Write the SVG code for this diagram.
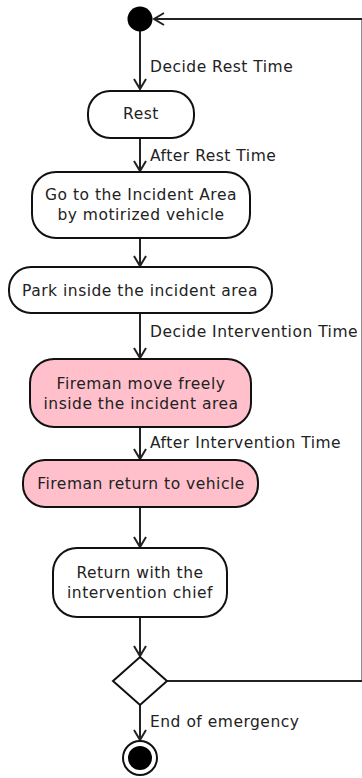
<svg xmlns="http://www.w3.org/2000/svg" width="362" height="778" viewBox="0 0 362 778">
<defs>
<style>
.n{fill:#fff;stroke:#111;stroke-width:2}
.p{fill:#ffc0cb;stroke:#111;stroke-width:2}
.t{font-family:"DejaVu Sans",Verdana,sans-serif;font-size:15.5px;letter-spacing:0.5px;fill:#222;text-anchor:middle}
.l{font-family:"DejaVu Sans",Verdana,sans-serif;font-size:15.5px;letter-spacing:0.5px;fill:#222}
.c{fill:none;stroke:#222;stroke-width:2}
</style>
<marker id="a" markerUnits="userSpaceOnUse" markerWidth="16" markerHeight="16" refX="11" refY="7" orient="auto">
<path d="M1,1 L11,7 L1,13" fill="none" stroke="#222" stroke-width="2"/>
</marker>
</defs>
<rect width="362" height="778" fill="#fff"/>
<g id="connectors">
<path class="c" d="M140,31 V89" marker-end="url(#a)"/>
<path class="c" d="M140,138 V171" marker-end="url(#a)"/>
<path class="c" d="M140,238 V266" marker-end="url(#a)"/>
<path class="c" d="M140,313 V358" marker-end="url(#a)"/>
<path class="c" d="M140,427 V459" marker-end="url(#a)"/>
<path class="c" d="M140,507 V547" marker-end="url(#a)"/>
<path class="c" d="M140,617 V656" marker-end="url(#a)"/>
<path class="c" d="M140,705 V740" marker-end="url(#a)"/>
<path class="c" d="M167,681 H362.5 V19 H154" marker-end="url(#a)"/>
<text class="l" x="150" y="72">Decide Rest Time</text>
<text class="l" x="150" y="161">After Rest Time</text>
<text class="l" x="150" y="337">Decide Intervention Time</text>
<text class="l" x="150" y="448">After Intervention Time</text>
<text class="l" x="150" y="727">End of emergency</text>
</g>
<g id="start"><circle cx="140" cy="19" r="12.5" fill="#000"/></g>
<g id="rest"><rect class="n" x="88" y="91" width="106" height="47" rx="22"/><text class="t" x="141" y="119">Rest</text></g>
<g id="go"><rect class="n" x="32" y="172" width="218" height="66" rx="24"/><text class="t" x="141" y="200">Go to the Incident Area</text><text class="t" x="141" y="220">by motirized vehicle</text></g>
<g id="park"><rect class="n" x="9" y="267" width="263" height="46" rx="22"/><text class="t" x="140" y="296">Park inside the incident area</text></g>
<g id="move"><rect class="p" x="30" y="359" width="221" height="68" rx="24"/><text class="t" x="141" y="389">Fireman move freely</text><text class="t" x="141" y="409">inside the incident area</text></g>
<g id="returnveh"><rect class="p" x="23" y="460" width="235" height="47" rx="22"/><text class="t" x="141" y="489">Fireman return to vehicle</text></g>
<g id="returnchief"><rect class="n" x="53" y="548" width="174" height="69" rx="24"/><text class="t" x="140" y="578">Return with the</text><text class="t" x="140" y="598">intervention chief</text></g>
<g id="decision"><path class="n" d="M140,657 L167,681 L140,705 L113,681 Z"/></g>
<g id="end"><circle cx="140" cy="758" r="17" fill="#fff" stroke="#111" stroke-width="2"/><circle cx="140" cy="758" r="12" fill="#000"/></g>
</svg>
